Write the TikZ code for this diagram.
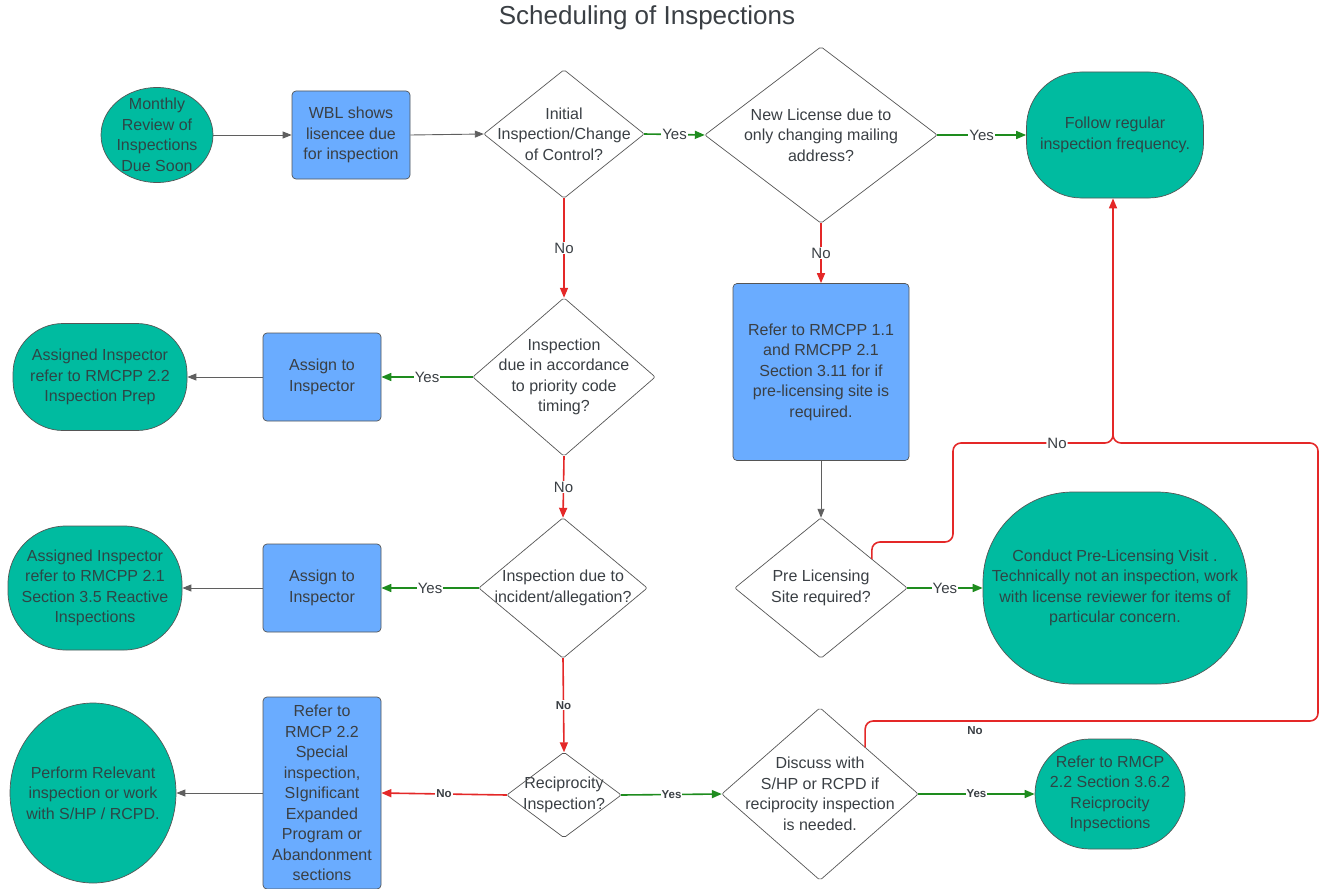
\documentclass[tikz,border=0pt]{standalone}
\usepackage{fontspec}
\setmainfont{Liberation Sans}
\usetikzlibrary{arrows.meta,calc,shapes.geometric}
\definecolor{tealc}{RGB}{0,187,160}
\definecolor{bluec}{RGB}{106,172,255}
\definecolor{bord}{RGB}{85,85,85}
\definecolor{txt}{RGB}{58,63,68}
\definecolor{ttxt}{RGB}{45,70,70}
\definecolor{gline}{RGB}{30,140,30}
\definecolor{rline}{RGB}{228,40,40}
\definecolor{kline}{RGB}{95,95,95}
\begin{document}
\begin{tikzpicture}[x=1pt,y=-1pt,
  base/.style={align=center, font=\fontsize{16}{20.5}\selectfont, text=txt, inner sep=0pt},
  term/.style={base, draw=bord, fill=tealc, text=ttxt, line width=0.7pt, rounded corners=#1},
  term/.default=40,
  oval/.style={base, ellipse, draw=bord, fill=tealc, text=ttxt, line width=0.7pt},
  proc/.style={base, rectangle, draw=bord, fill=bluec, line width=0.7pt, rounded corners=4pt},
  dia/.style={base, rectangle},
  diab/.style={draw=bord, line width=0.7pt, rounded corners=2pt},
  kcon/.style={draw=kline, line width=0.9pt, -{Triangle[length=9pt,width=7pt]}},
  gcon/.style={draw=gline, line width=1.6pt, -{Triangle[length=10pt,width=8pt]}},
  rcon/.style={draw=rline, line width=1.6pt, -{Triangle[length=10pt,width=8pt]}},
  lbl/.style={fill=white, inner sep=1pt, text=txt, font=\fontsize{15}{16}\selectfont},
  lblb/.style={fill=white, inner sep=1pt, text=txt, font=\fontsize{11.5}{13}\selectfont\bfseries}
]
\useasboundingbox (0,0) rectangle (1321,888);

\node[text=txt, font=\fontsize{26}{30}\selectfont] (title) at (647,18) {Scheduling of Inspections};

% top row
\node[oval, inner sep=-3pt, minimum width=112, minimum height=88] (monthly) at (157,135) {Monthly\\Review of\\Inspections\\Due Soon};
\node[proc, minimum width=118, minimum height=88] (wbl) at (351,135) {WBL shows\\lisencee due\\for inspection};
\node[dia, minimum width=160, minimum height=128] (d1) at (564,134) {Initial\\Inspection/Change\\of Control?};
\node[dia, minimum width=232, minimum height=176] (d2) at (821,135) {New License due to\\only changing mailing\\address?};
\node[term=55, minimum width=177, minimum height=126] (follow) at (1115,135) {Follow regular\\inspection frequency.};

% second row
\node[dia, minimum width=182, minimum height=158] (d3) at (564,377) {Inspection\\due in accordance\\to priority code\\timing?};
\node[proc, minimum width=118, minimum height=88] (as1) at (322,377) {Assign to\\Inspector};
\node[term=50, minimum width=174, minimum height=107] (ai1) at (100,377) {Assigned Inspector\\refer to RMCPP 2.2\\Inspection Prep};
\node[proc, minimum width=176, minimum height=177] (r11) at (821,372) {Refer to RMCPP 1.1\\and RMCPP 2.1\\Section 3.11 for if\\pre-licensing site is\\required.};

% third row
\node[dia, minimum width=168, minimum height=140] (d4) at (563,588) {Inspection due to\\incident/allegation?};
\node[proc, minimum width=118, minimum height=88] (as2) at (322,588) {Assign to\\Inspector};
\node[term=58, minimum width=174, minimum height=124] (ai2) at (95,588) {Assigned Inspector\\refer to RMCPP 2.1\\Section 3.5 Reactive\\Inspections};
\node[dia, minimum width=172, minimum height=140] (pre) at (821,588) {Pre Licensing\\Site required?};
\node[term=90, minimum width=264, minimum height=192] (conduct) at (1115,588) {Conduct Pre-Licensing Visit .\\Technically not an inspection, work\\with license reviewer for items of\\particular concern.};

% bottom row
\node[dia, minimum width=114, minimum height=85] (rec) at (564,795) {Reciprocity\\Inspection?};
\node[proc, minimum width=118, minimum height=192] (rbox) at (322,793) {Refer to\\RMCP 2.2\\Special\\inspection,\\SIgnificant\\Expanded\\Program or\\Abandonment\\sections};
\node[oval, inner sep=-8pt, minimum width=165, minimum height=180] (perf) at (93,793) {Perform Relevant\\inspection or work\\with S/HP / RCPD.};
\node[dia, minimum width=196, minimum height=172] (disc) at (820,794) {Discuss with\\S/HP or RCPD if\\reciprocity inspection\\is needed.};
\node[term=55, minimum width=150, minimum height=110] (r362) at (1110,794) {Refer to RMCP\\2.2 Section 3.6.2\\Reicprocity\\Inpsections};

% diamond outlines
\foreach \n in {d1,d2,d3,d4,pre,rec,disc}
  \draw[diab] (\n.north) -- (\n.east) -- (\n.south) -- (\n.west) -- cycle;

% connectors
\draw[kcon] (monthly.east) -- (wbl.west);
\draw[kcon] (wbl.east) -- (d1.west);
\draw[gcon] (d1.east) -- node[lbl]{Yes} (d2.west);
\draw[gcon] (d2.east) -- node[lbl]{Yes} (follow.west);
\draw[rcon] (d1.south) -- node[lbl]{No} (d3.north);
\draw[rcon] (d2.south) -- node[lbl]{No} (r11.north);
\draw[kcon] (r11.south) -- (pre.north);
\draw[gcon] (pre.east) -- node[lbl]{Yes} (conduct.west);
\draw[gcon] (d3.west) -- node[lbl]{Yes} (as1.east);
\draw[kcon] (as1.west) -- (ai1.east);
\draw[rcon] (d3.south) -- node[lbl]{No} (d4.north);
\draw[gcon] (d4.west) -- node[lbl]{Yes} (as2.east);
\draw[kcon] (as2.west) -- (ai2.east);
\draw[rcon] (d4.south) -- node[lblb]{No} (rec.north);
\draw[rcon] (rec.west) -- node[lblb]{No} (rbox.east);
\draw[kcon] (rbox.west) -- (perf.east);
\draw[gcon] (rec.east) -- node[lblb]{Yes} (disc.west);
\draw[gcon] (disc.east) -- node[lblb]{Yes} (r362.west);

% No loops to "Follow regular"
\coordinate (preNo) at ($(pre.north)!0.59!(pre.east)$);
\coordinate (discNo) at ($(disc.north)!0.46!(disc.east)$);
\coordinate (join) at (1113,443);
\draw[draw=rline, line width=1.6pt, rounded corners=8pt, -{Triangle[length=10pt,width=8pt]}]
  (preNo) -- (preNo |- 0,542) -- (953,542) -- (953,443)
  -- node[lbl, pos=0.65]{No} (join) -- (join |- follow.south);
\draw[draw=rline, line width=1.6pt, rounded corners=8pt]
  (discNo) -- (discNo |- 0,721) -- (1318,721) -- (1318,443) -- (join) -- (1113,425);
\node[text=txt, font=\fontsize{11.5}{13}\selectfont\bfseries] (nolbl) at (975,731) {No};
\end{tikzpicture}
\end{document}
